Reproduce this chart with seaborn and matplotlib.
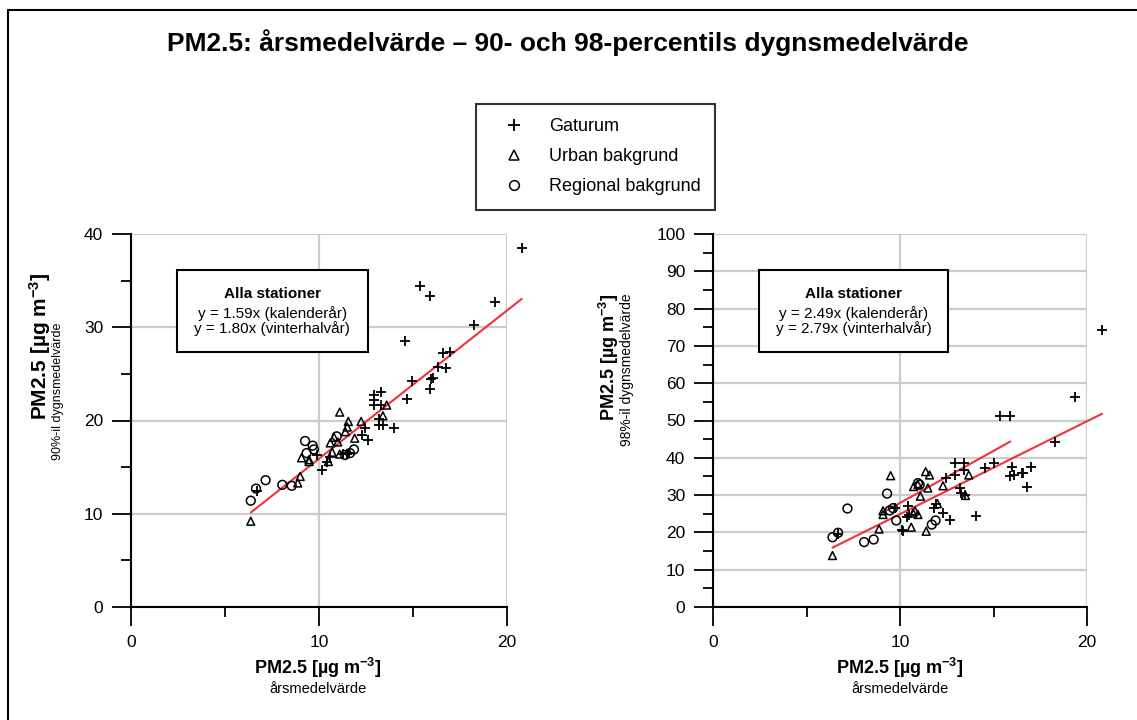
import numpy as np
import pandas as pd
import matplotlib
matplotlib.use("Agg")
import matplotlib.pyplot as plt
from matplotlib.lines import Line2D
from matplotlib.patches import Rectangle
import seaborn as sns

# ---------------- data ----------------
title = "PM2.5: årsmedelvärde – 90- och 98-percentils dygnsmedelvärde"
categories = ["Gaturum", "Urban bakgrund", "Regional bakgrund"]

# Left panel: annual mean vs 90-percentile of daily means
l_gat_x = [20.78, 15.38, 15.89, 19.38, 18.27, 14.58, 16.57, 16.96, 16.35, 16.78, 16.04, 15.95,
           15.89, 14.97, 14.70, 12.90, 12.90, 13.30, 12.90, 13.30, 13.20, 13.20, 13.40, 14.00,
           12.45, 12.27, 12.60, 10.14, 10.40, 10.60, 9.90, 6.70, 11.30, 11.50, 11.60]
l_gat_y = [38.5, 34.4, 33.3, 32.7, 30.2, 28.5, 27.2, 27.3, 25.7, 25.6, 24.6, 24.4,
           23.4, 24.2, 22.3, 22.7, 22.2, 23.1, 21.65, 21.65, 20.2, 19.5, 19.5, 19.2,
           19.2, 18.4, 17.9, 14.7, 15.6, 16.1, 16.3, 12.4, 16.4, 16.4, 16.5]
l_urb_x = [6.37, 8.87, 9.00, 9.07, 9.47, 9.47, 10.50, 10.60, 11.10, 11.56, 11.50, 11.40,
           10.80, 11.00, 11.90, 12.24, 13.60, 13.40, 10.70, 11.10]
l_urb_y = [9.2, 13.3, 14.0, 16.0, 15.6, 15.8, 15.6, 17.6, 20.9, 19.9, 19.3, 18.8,
           18.2, 17.7, 18.1, 19.9, 21.65, 20.5, 16.6, 16.4]
l_reg_x = [6.37, 6.65, 7.16, 8.05, 8.55, 9.26, 9.66, 9.73, 9.34, 10.94, 11.86, 11.65, 11.38]
l_reg_y = [11.4, 12.7, 13.6, 13.1, 13.0, 17.8, 17.3, 16.9, 16.5, 18.3, 16.9, 16.5, 16.3]

# Right panel: annual mean vs 98-percentile of daily means
r_gat_x = [20.8, 19.38, 15.37, 15.9, 18.29, 12.92, 13.4, 12.92, 13.4, 12.47, 14.55, 15.0,
           15.98, 15.9, 16.07, 16.5, 16.6, 17.0, 16.8, 13.19, 13.27, 13.45, 11.94, 11.8,
           12.3, 12.69, 14.07, 10.41, 10.4, 10.5, 10.12, 10.15, 6.69, 9.71]
r_gat_y = [74.2, 56.4, 51.3, 51.3, 44.2, 38.6, 38.6, 35.4, 36.8, 34.5, 37.2, 38.6,
           37.5, 35.2, 35.3, 35.9, 36.0, 37.5, 32.1, 31.9, 30.5, 30.1, 27.7, 26.5,
           25.2, 23.4, 24.5, 27.0, 24.1, 24.6, 20.7, 20.3, 19.6, 26.5]
r_urb_x = [6.39, 8.88, 9.09, 9.09, 9.5, 11.37, 11.58, 10.73, 10.96, 11.49, 11.09, 12.3,
           13.68, 13.5, 10.7, 10.8, 10.96, 10.6, 11.4, 12.0]
r_urb_y = [13.8, 20.9, 24.8, 25.8, 35.2, 36.3, 35.4, 32.3, 32.8, 31.9, 29.7, 32.5,
           35.4, 29.9, 25.2, 25.8, 24.8, 21.4, 20.3, 27.7]
r_reg_x = [6.39, 6.69, 7.19, 8.08, 8.59, 9.31, 9.45, 9.63, 9.8, 10.96, 11.05, 11.7, 11.9]
r_reg_y = [18.7, 19.9, 26.4, 17.4, 18.1, 30.4, 25.9, 26.5, 23.2, 33.2, 32.8, 22.1, 23.2]

# regression lines (y = k*x) and the x-range they are drawn over
l_slopes = [1.59]
l_ranges = [(6.38, 20.78)]
r_slopes = [2.49, 2.79]
r_ranges = [(6.39, 20.8), (9.09, 15.9)]

l_box = ["Alla stationer", "y = 1.59x (kalenderår)", "y = 1.80x (vinterhalvår)"]
r_box = ["Alla stationer", "y = 2.49x (kalenderår)", "y = 2.79x (vinterhalvår)"]

xlabel_main = "PM2.5 [µg m$^{\\mathbf{-3}}$]"
xlabel_sub = "årsmedelvärde"
l_ylabel_sub = "90%-il dygnsmedelvärde"
r_ylabel_sub = "98%-il dygnsmedelvärde"

# ---------------- style ----------------
sns.set_theme(style="white")
plt.rcParams["font.family"] = ["Liberation Sans", "DejaVu Sans"]
plt.rcParams["mathtext.fontset"] = "custom"
plt.rcParams["mathtext.rm"] = "Liberation Sans"
plt.rcParams["mathtext.it"] = "Liberation Sans:italic"
plt.rcParams["mathtext.bf"] = "Liberation Sans:bold"
for k in ["text.color", "axes.labelcolor", "xtick.color", "ytick.color", "axes.edgecolor"]:
    plt.rcParams[k] = "black"

W, H = 1137, 720
fig = plt.figure(figsize=(W / 100, H / 100), dpi=100)
fig.patch.set_facecolor("white")


def fx(px):
    return px / W


def fy(py):
    return 1 - py / H


ax1 = fig.add_axes([fx(131), fy(607), fx(507) - fx(131), fy(234) - fy(607)])
ax2 = fig.add_axes([fx(713), fy(607), fx(1087) - fx(713), fy(234) - fy(607)])

RED = "#f0323c"
GRID = "#cccccc"


def panel(ax, gx, gy, ux, uy, rx, ry, slopes, ranges, ymax, box_lines):
    ax.set_facecolor("white")
    for k, (a, b) in zip(slopes, ranges):
        d = pd.DataFrame({"x": [a, b]})
        d["y"] = k * d["x"]
        sns.lineplot(data=d, x="x", y="y", color=RED, lw=1.5, ax=ax, zorder=3)
    for ln in ax.get_lines():
        ln.set_clip_on(False)
    sns.scatterplot(x=gx, y=gy, marker="+", s=55, color="black", linewidth=1.3,
                    ax=ax, clip_on=False, legend=False, zorder=4)
    sns.scatterplot(x=ux, y=uy, marker="^", s=32, color="black", facecolor="none",
                    edgecolor="black", linewidth=1.1, ax=ax, clip_on=False, legend=False, zorder=4)
    sns.scatterplot(x=rx, y=ry, marker="o", s=40, color="black", facecolor="none",
                    edgecolor="black", linewidth=1.1, ax=ax, clip_on=False, legend=False, zorder=4)

    ax.set_xlim(0, 20)
    ax.set_ylim(0, ymax)
    ax.set_xticks([0, 10, 20])
    ax.set_xticks([5, 15], minor=True)
    ax.set_yticks(np.arange(0, ymax + 1, 10))
    ax.set_yticks(np.arange(5, ymax, 10), minor=True)
    ax.grid(True, which="major", color=GRID, lw=1.6)
    ax.set_axisbelow(True)
    for s in ["top", "right"]:
        ax.spines[s].set_visible(False)
    for s in ["left", "bottom"]:
        ax.spines[s].set_color("black")
        ax.spines[s].set_linewidth(1.5)
        ax.spines[s].set_zorder(5)
    ax.tick_params(which="major", length=14, width=1.3, direction="out", pad=6,
                   labelsize=12.5, colors="black", bottom=True, left=True)
    ax.tick_params(which="minor", length=7, width=1.3, direction="out",
                   bottom=True, left=True, colors="black")
    ax.set_xlabel("")
    ax.set_ylabel("")

    # annotation box
    x0, x1, y0, y1 = 0.122, 0.629, 0.684, 0.903
    ax.add_patch(Rectangle((x0, y0), x1 - x0, y1 - y0, transform=ax.transAxes,
                           facecolor="white", edgecolor="black", lw=1.5, zorder=6))
    xc = (x0 + x1) / 2
    ax.text(xc, (607 - 294) / 373, box_lines[0], transform=ax.transAxes, ha="center",
            va="center", fontsize=11, fontweight="bold", zorder=7)
    ax.text(xc, (607 - 314) / 373, box_lines[1], transform=ax.transAxes, ha="center",
            va="center", fontsize=11, zorder=7)
    ax.text(xc, (607 - 329) / 373, box_lines[2], transform=ax.transAxes, ha="center",
            va="center", fontsize=11, zorder=7)


panel(ax1, l_gat_x, l_gat_y, l_urb_x, l_urb_y, l_reg_x, l_reg_y, l_slopes, l_ranges, 40, l_box)
panel(ax2, r_gat_x, r_gat_y, r_urb_x, r_urb_y, r_reg_x, r_reg_y, r_slopes, r_ranges, 100, r_box)

# x labels
for cx in [318, 900]:
    fig.text(fx(cx), fy(668), xlabel_main, ha="center", va="center", fontsize=13,
             fontweight="bold")
    fig.text(fx(cx), fy(689), xlabel_sub, ha="center", va="center", fontsize=10.5)

# y labels
fig.text(fx(40), fy(346), xlabel_main, ha="center", va="center", fontsize=15,
         fontweight="bold", rotation=90)
fig.text(fx(58), fy(391), l_ylabel_sub, ha="center", va="center", fontsize=9, rotation=90)
fig.text(fx(609), fy(357), xlabel_main, ha="center", va="center", fontsize=13,
         fontweight="bold", rotation=90)
fig.text(fx(627), fy(370), r_ylabel_sub, ha="center", va="center", fontsize=10, rotation=90)

# title
fig.text(fx(568), fy(43), title, ha="center", va="center", fontsize=19, fontweight="bold")

# legend
handles = [
    Line2D([], [], ls="none", marker="+", ms=9, mew=1.3, color="black"),
    Line2D([], [], ls="none", marker="^", ms=6.5, mew=1.1, mfc="none", mec="black"),
    Line2D([], [], ls="none", marker="o", ms=7, mew=1.1, mfc="none", mec="black"),
]
leg = fig.legend(handles, categories, loc="upper left", bbox_to_anchor=(fx(476), fy(104)),
                 frameon=True, fancybox=False, edgecolor="black", fontsize=13,
                 borderpad=0.8, labelspacing=0.72, handlelength=2.6, handletextpad=0.64,
                 borderaxespad=0)
leg.get_frame().set_linewidth(1.5)

# figure frame (left and top)
fig.add_artist(Line2D([fx(8), fx(8)], [0, fy(10)], transform=fig.transFigure,
                      color="black", lw=1.5))
fig.add_artist(Line2D([fx(8), 1], [fy(10), fy(10)], transform=fig.transFigure,
                      color="black", lw=1.5))

fig.savefig("out.png", dpi=100)
